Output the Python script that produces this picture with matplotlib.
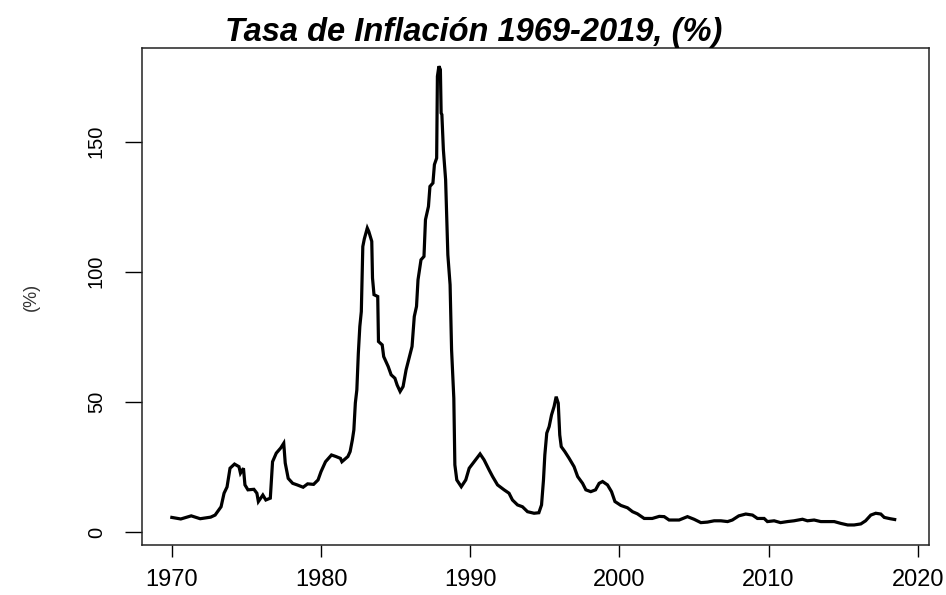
import numpy as np
import matplotlib
matplotlib.use("Agg")
import matplotlib.pyplot as plt

plt.rcParams['font.family'] = ['Liberation Sans', 'DejaVu Sans']

# (year, inflation %)
years = [1970.0, 1970.6, 1971.3, 1971.9, 1972.6, 1972.9, 1973.3, 1973.5, 1973.7, 1973.9,
         1974.2, 1974.5, 1974.6, 1974.8, 1974.9, 1975.1, 1975.5, 1975.7, 1975.8, 1976.1,
         1976.3, 1976.6, 1976.75, 1977.0, 1977.3, 1977.5, 1977.6, 1977.8, 1978.1, 1978.4,
         1978.8, 1979.1, 1979.5, 1979.8, 1980.0, 1980.3, 1980.7, 1981.0, 1981.3, 1981.4,
         1981.8, 1981.95, 1982.1, 1982.2, 1982.3, 1982.4, 1982.5, 1982.6, 1982.7, 1982.8,
         1982.9, 1983.1, 1983.2, 1983.4, 1983.45, 1983.55, 1983.8, 1983.85, 1984.1, 1984.2,
         1984.5, 1984.7, 1984.95, 1985.1, 1985.3, 1985.5, 1985.7, 1985.9, 1986.1, 1986.25,
         1986.4, 1986.5, 1986.7, 1986.9, 1987.0, 1987.2, 1987.3, 1987.5, 1987.6, 1987.75,
         1987.8, 1987.9, 1988.0, 1988.05, 1988.1, 1988.2, 1988.35, 1988.5, 1988.65, 1988.75,
         1988.9, 1988.97, 1989.1, 1989.4, 1989.7, 1989.93, 1990.26, 1990.66, 1990.93, 1991.27,
         1991.5, 1991.83, 1992.27, 1992.6, 1992.83, 1993.17, 1993.5, 1993.84, 1994.28, 1994.6,
         1994.78, 1994.91, 1995.0, 1995.13, 1995.29, 1995.45, 1995.62, 1995.76, 1995.9, 1996.0,
         1996.1, 1996.34, 1996.63, 1996.96, 1997.2, 1997.53, 1997.75, 1998.08, 1998.4, 1998.64,
         1998.87, 1999.2, 1999.47, 1999.7, 2000.1, 2000.54, 2000.88, 2001.2, 2001.66, 2002.2,
         2002.67, 2003.0, 2003.33, 2004.0, 2004.56, 2005.0, 2005.46, 2005.9, 2006.35, 2006.8,
         2007.25, 2007.57, 2008.0, 2008.47, 2008.92, 2009.25, 2009.7, 2009.92, 2010.37, 2010.8,
         2011.26, 2011.7, 2012.27, 2012.6, 2013.05, 2013.5, 2013.95, 2014.4, 2014.84, 2015.3,
         2015.73, 2016.18, 2016.5, 2016.85, 2017.18, 2017.52, 2017.75, 2018.15, 2018.45]
inflacion = [5.6, 5.0, 6.2, 5.1, 5.7, 6.5, 9.7, 14.9, 17.3, 24.5,
             26.1, 25.1, 22.6, 24.5, 18.1, 16.2, 16.4, 14.9, 11.7, 14.2,
             12.3, 13.0, 27.0, 30.3, 32.3, 34.1, 26.5, 20.6, 18.7, 18.1,
             17.2, 18.5, 18.3, 20.0, 23.2, 27.0, 29.6, 29.0, 28.3, 27.0,
             29.0, 30.9, 35.4, 39.2, 49.6, 54.6, 68.7, 79.0, 84.7, 109.7,
             112.6, 116.8, 115.5, 111.7, 97.6, 91.2, 90.5, 73.2, 71.9, 67.4,
             63.6, 60.4, 59.1, 56.5, 54.0, 55.9, 62.3, 66.8, 71.3, 82.8,
             86.7, 96.9, 104.6, 105.9, 120.0, 125.1, 132.8, 134.1, 141.2, 143.7,
             175.1, 179.0, 177.7, 161.0, 160.4, 146.9, 135.4, 106.5, 95.0, 70.0,
             51.4, 25.8, 20.0, 17.4, 20.0, 24.5, 27.0, 30.0, 27.7, 23.8,
             21.3, 18.1, 16.2, 14.9, 12.3, 10.4, 9.7, 7.8, 7.2, 7.4,
             10.4, 20.0, 29.6, 38.0, 40.5, 45.0, 48.2, 52.0, 49.5, 37.3,
             32.8, 30.9, 28.3, 25.1, 21.3, 18.7, 16.2, 15.5, 16.2, 18.7,
             19.4, 18.1, 15.5, 11.7, 10.2, 9.3, 7.8, 7.0, 5.2, 5.2,
             6.0, 5.9, 4.6, 4.6, 5.9, 4.9, 3.6, 3.8, 4.3, 4.3,
             4.0, 4.6, 6.2, 6.9, 6.5, 5.2, 5.2, 4.0, 4.3, 3.6,
             4.0, 4.3, 4.9, 4.3, 4.6, 4.0, 4.0, 4.0, 3.3, 2.7,
             2.7, 3.1, 4.3, 6.5, 7.2, 6.9, 5.6, 5.1, 4.8]

x_ticks = [1970, 1980, 1990, 2000, 2010, 2020]
y_ticks = [0, 50, 100, 150]

fig = plt.figure(figsize=(9.46, 5.95), dpi=100)
ax = fig.add_axes([142 / 946, 1 - 545 / 595, (929 - 142) / 946, (545 - 48) / 595])

ax.plot(years, inflacion, color='black', linewidth=2.3, solid_joinstyle='miter')

ax.set_xlim(1968.0, 2020.75)
ax.set_ylim(-5.0, 186.0)

ax.set_xticks(x_ticks)
ax.set_yticks(y_ticks)
ax.set_xticklabels([str(t) for t in x_ticks], fontsize=17)
ax.set_yticklabels([str(t) for t in y_ticks], fontsize=14.5, rotation=90, va='center')

ax.tick_params(axis='x', length=8.6, width=1.0, pad=9, colors='black')
ax.tick_params(axis='y', length=12, width=1.0, pad=14, colors='black')
for sp in ax.spines.values():
    sp.set_linewidth(1.1)
    sp.set_color('#222222')

ax.set_ylabel('(%)', fontsize=13, color='#333333', labelpad=34)

fig.text(0.501, 1 - 33 / 595, 'Tasa de Inflación 1969-2019, (%)', ha='center', va='center',
         fontsize=23.5, fontweight='bold', fontstyle='italic')

fig.savefig('out.png', dpi=100)
